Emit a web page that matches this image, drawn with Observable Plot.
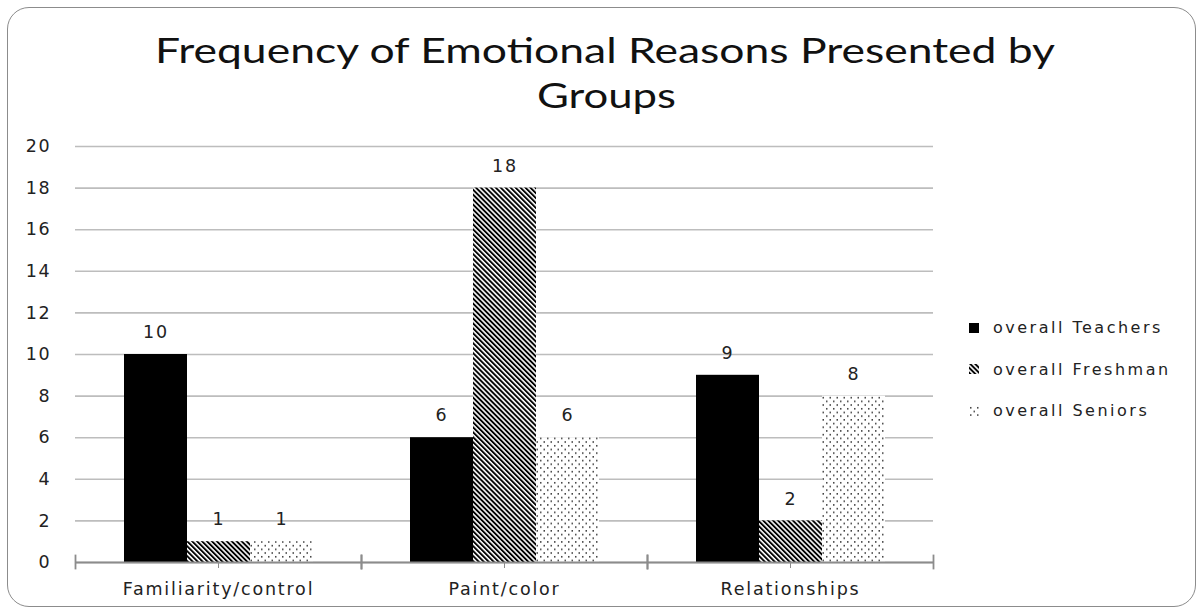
<!DOCTYPE html>
<html>
<head>
<meta charset="utf-8">
<script src="https://cdn.jsdelivr.net/npm/d3@7"></script>
<script src="https://cdn.jsdelivr.net/npm/@observablehq/plot@0.6"></script>
<style>
  html, body { margin: 0; padding: 0; background: #fff; }
  #wrap { position: relative; width: 1201px; height: 611px; overflow: hidden; background: #fff; }
  #border { position: absolute; left: 7px; top: 7px; width: 1189px; height: 600px;
            border: 1.5px solid #8c8c8c; border-radius: 22px; box-sizing: border-box; }
  #chart { position: absolute; left: 0; top: 0; }
  #title { position: absolute; left: 0; top: 0; }
  #legend { position: absolute; left: 969px; top: 307px; font-family: "DejaVu Sans", sans-serif;
            font-size: 16px; color: #222; letter-spacing: 2.5px; }
  .item { display: flex; align-items: center; height: 41.5px; }
  .item svg { margin-right: 14px; }
</style>
</head>
<body>
<div id="wrap">
  <div id="border"></div>
  <div id="chart"></div>
  <svg id="title" width="1201" height="130">
    <text x="155" y="63" textLength="900" lengthAdjust="spacingAndGlyphs"
          font-family="Lato, sans-serif" font-size="35" fill="#111">Frequency of Emotional Reasons Presented by</text>
    <text x="537" y="108" textLength="139" lengthAdjust="spacingAndGlyphs"
          font-family="Lato, sans-serif" font-size="35" fill="#111">Groups</text>
  </svg>
  <div id="legend"></div>
</div>
<script>
// Categories, series and counts
const categories = ["Familiarity/control", "Paint/color", "Relationships"];
const series = ["overall Teachers", "overall Freshman", "overall Seniors"];
const teachers = [10, 6, 9];
const freshman = [1, 18, 2];
const seniors = [1, 6, 8];
const yTicks = [0, 2, 4, 6, 8, 10, 12, 14, 16, 18, 20];

const seriesValues = [teachers, freshman, seniors];
const data = [];
categories.forEach((c, i) => {
  series.forEach((s, j) => data.push({category: c, series: s, value: seriesValues[j][i]}));
});

const fills = ["#000", "url(#stripes)", "url(#dots)"];

const chart = Plot.plot({
  width: 1201,
  height: 611,
  marginLeft: 74,
  marginRight: 268,
  marginTop: 146,
  marginBottom: 49,
  style: {fontFamily: "DejaVu Sans, sans-serif", fontSize: "17px", color: "#222", background: "transparent"},
  fx: {domain: categories, padding: 0, label: null},
  x: {domain: series, paddingInner: 0, paddingOuter: 0.745, axis: null},
  y: {domain: [0, 20], label: null},
  color: {domain: series, range: fills},
  marks: [
    Plot.gridY(yTicks, {stroke: "#bdbdbd", strokeOpacity: 1, strokeWidth: 1.6}),
    Plot.axisY(yTicks, {tickSize: 0, tickPadding: 24, label: null}),
    Plot.barY(data, {fx: "category", x: "series", y: "value", fill: "series"}),
    Plot.text(data, {fx: "category", x: "series", y: "value", text: d => String(d.value),
                     dy: -22, fill: "#222"}),
    Plot.ruleY([0], {stroke: "#8c8c8c", strokeWidth: 1.8}),
    Plot.frame({anchor: "left", stroke: "#8c8c8c", strokeWidth: 1.8, insetTop: 409, insetBottom: -6}),
    Plot.frame({anchor: "right", stroke: "#8c8c8c", strokeWidth: 1.8, insetTop: 409, insetBottom: -6}),
    Plot.axisFx({anchor: "bottom", tickSize: 6, stroke: "#8c8c8c", tickPadding: 14, label: null})
  ]
});

// Wide, evenly spaced lettering for all chart text
d3.select(chart).selectAll("text")
  .style("font-size", "17.5px")
  .style("letter-spacing", "1.8px");

// Fill patterns for the hatched and dotted series
const defs = d3.select(chart).insert("defs", ":first-child");
const stripes = defs.append("pattern").attr("id", "stripes").attr("patternUnits", "userSpaceOnUse")
  .attr("width", 3.5).attr("height", 10).attr("patternTransform", "rotate(-45)");
stripes.append("rect").attr("width", 3.5).attr("height", 10).attr("fill", "#fff");
stripes.append("rect").attr("width", 1.9).attr("height", 10).attr("fill", "#000");
const dots = defs.append("pattern").attr("id", "dots").attr("patternUnits", "userSpaceOnUse")
  .attr("width", 7).attr("height", 7.4);
dots.append("rect").attr("width", 7).attr("height", 7.4).attr("fill", "#fff");
dots.append("rect").attr("x", 1).attr("y", 1).attr("width", 1.5).attr("height", 1.5).attr("fill", "#333");
dots.append("rect").attr("x", 4.5).attr("y", 4.7).attr("width", 1.5).attr("height", 1.5).attr("fill", "#333");

document.getElementById("chart").appendChild(chart);

// Legend
const legend = d3.select("#legend");
series.forEach((s, i) => {
  const item = legend.append("div").attr("class", "item");
  const sw = item.append("svg").attr("width", 10).attr("height", 10);
  sw.append("rect").attr("width", 10).attr("height", 10).attr("fill", fills[i]);
  item.append("span").text(s);
});
</script>
</body>
</html>
